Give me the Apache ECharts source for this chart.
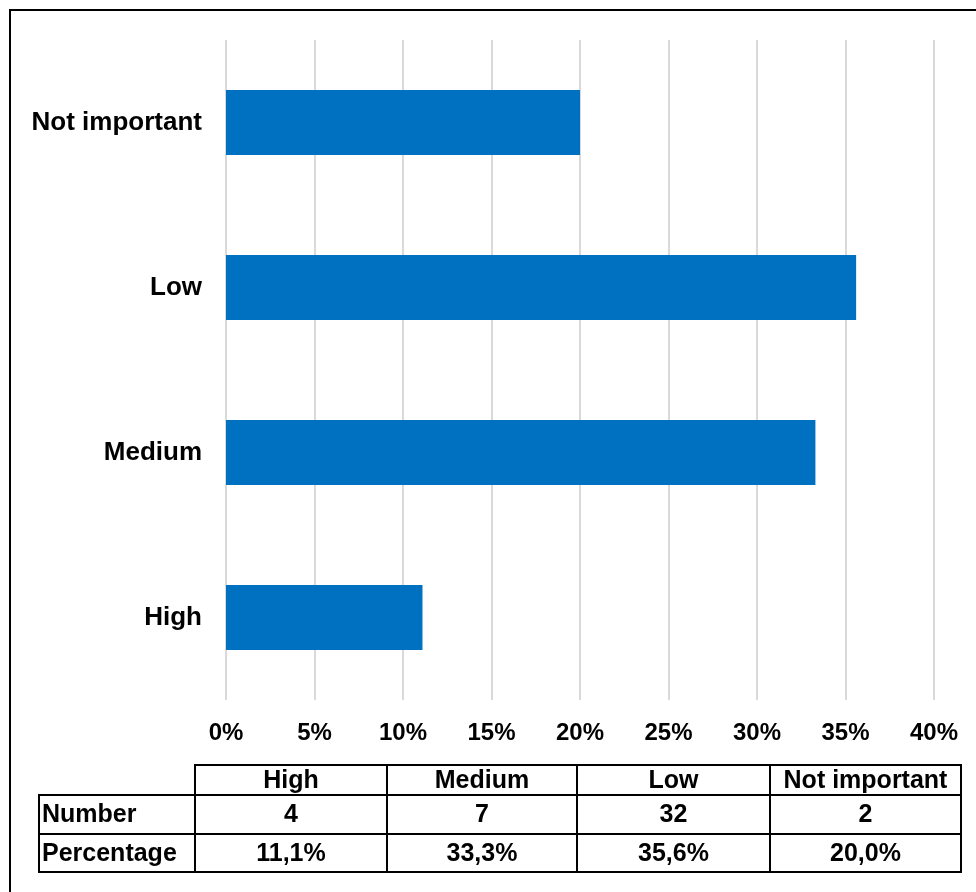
<!DOCTYPE html>
<html>
<head>
<meta charset="utf-8">
<script src="https://cdn.jsdelivr.net/npm/echarts@6/dist/echarts.min.js"></script>
<style>
  html, body { margin: 0; padding: 0; background: #fff; }
  #chart { width: 976px; height: 892px; }
</style>
</head>
<body>
<div id="chart"></div>
<script>
// Importance ratings: counts and shares per category
const categories = ['High', 'Medium', 'Low', 'Not important'];
const numbers = [4, 7, 32, 2];
const percentages = [11.1, 33.3, 35.6, 20.0];
const rowLabels = ['Number', 'Percentage'];
const axisMax = 40;
const axisStep = 5;

const FONT = '"Liberation Sans", Arial, sans-serif';
const fmtPct = v => v.toFixed(1).replace('.', ',') + '%';

const chart = echarts.init(document.getElementById('chart'));

// Summary table under the chart, built from the same arrays
const tbl = {
  labelLeft: 39, colLeft: 195, colW: [192, 190, 193, 191],
  headerTop: 765, headerH: 30, rowH: [39, 38]
};
const graphics = [];
function cell(x, y, w, h, text, align) {
  graphics.push({
    type: 'rect',
    shape: { x: x, y: y, width: w, height: h },
    style: { fill: 'transparent', stroke: '#000', lineWidth: 2 },
    z: 10
  });
  graphics.push({
    type: 'text',
    x: align === 'left' ? x + 3 : x + w / 2,
    y: y + h / 2 + 1,
    style: {
      text: text, font: 'bold 25px ' + FONT, fill: '#000',
      align: align === 'left' ? 'left' : 'center', verticalAlign: 'middle'
    },
    z: 11
  });
}
let cx = tbl.colLeft;
categories.forEach((c, i) => {
  cell(cx, tbl.headerTop, tbl.colW[i], tbl.headerH, c);
  cx += tbl.colW[i];
});
let ry = tbl.headerTop + tbl.headerH;
const rowValues = [numbers.map(String), percentages.map(fmtPct)];
rowLabels.forEach((lab, r) => {
  cell(tbl.labelLeft, ry, tbl.colLeft - tbl.labelLeft, tbl.rowH[r], lab, 'left');
  let x = tbl.colLeft;
  rowValues[r].forEach((v, i) => {
    cell(x, ry, tbl.colW[i], tbl.rowH[r], v);
    x += tbl.colW[i];
  });
  ry += tbl.rowH[r];
});
// Outer frame
graphics.push({
  type: 'rect',
  shape: { x: 10, y: 10, width: 1000, height: 1000 },
  style: { fill: 'transparent', stroke: '#000', lineWidth: 2 },
  z: 12
});

chart.setOption({
  backgroundColor: '#fff',
  animation: false,
  grid: { left: 226, right: 42, top: 40, bottom: 192, containLabel: false },
  xAxis: {
    type: 'value', min: 0, max: axisMax, interval: axisStep,
    axisLine: { show: false }, axisTick: { show: false },
    splitLine: { show: true, lineStyle: { color: '#d9d9d9', width: 2 } },
    axisLabel: {
      formatter: v => v + '%', margin: 21,
      fontFamily: FONT, fontSize: 24, fontWeight: 'bold', color: '#000'
    }
  },
  yAxis: {
    type: 'category', data: categories,
    axisLine: { show: false }, axisTick: { show: false },
    axisLabel: {
      margin: 24, padding: [5, 0, 0, 0],
      fontFamily: FONT, fontSize: 26, fontWeight: 'bold', color: '#000'
    }
  },
  series: [{
    type: 'bar', data: percentages, barWidth: '39.4%',
    itemStyle: { color: '#0070C0' }
  }],
  graphic: graphics
});
</script>
</body>
</html>
